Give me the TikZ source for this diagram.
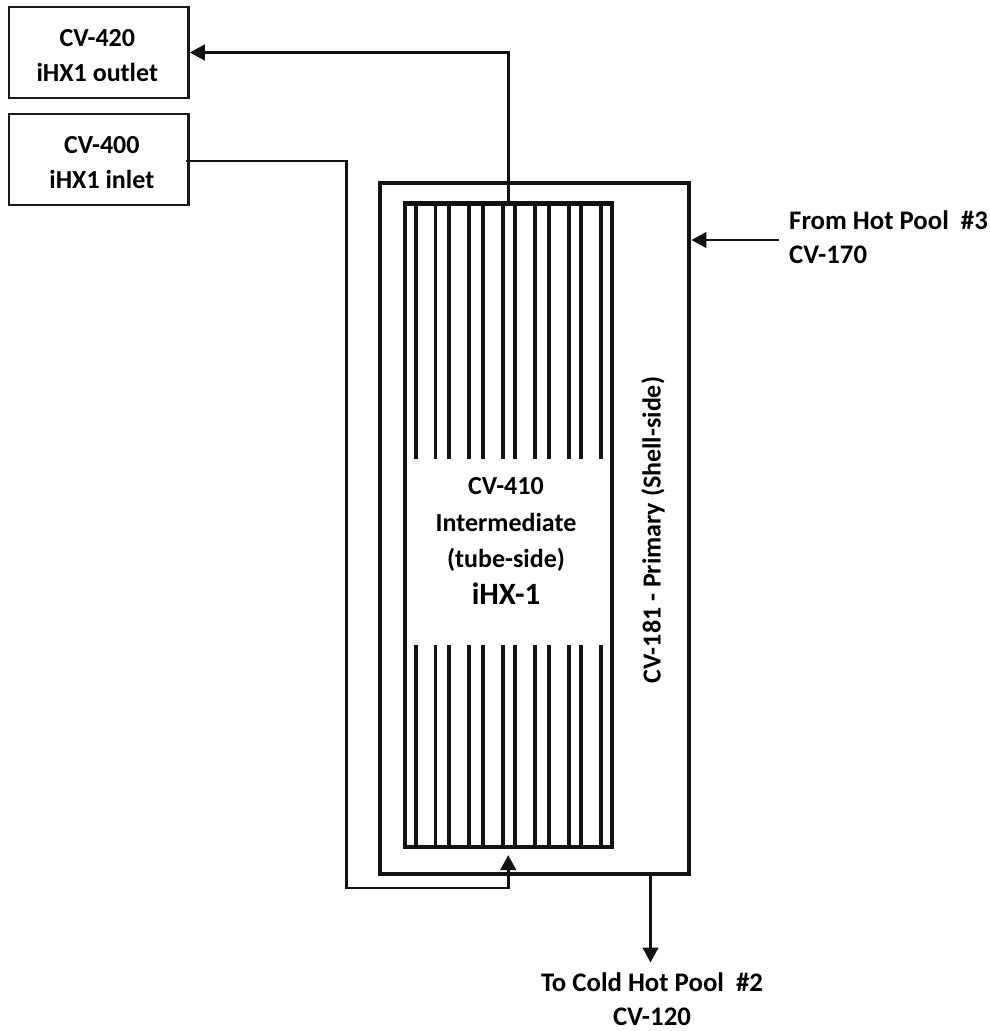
\documentclass[tikz,border=0pt]{standalone}
\usepackage{fontspec}
\setmainfont{Carlito}
\usetikzlibrary{arrows.meta}
\tikzset{
  x=1pt,y=-1pt,
  cvbox/.style={draw=black!90,line width=2.4pt,inner sep=0pt,minimum width=179.5pt,minimum height=91pt,align=center,font=\fontsize{26}{35}\selectfont\bfseries},
  shell/.style={draw=black!93,line width=4.2pt,inner sep=0pt},
  bundle/.style={draw=black!93,line width=4.2pt,inner sep=0pt},
  tube/.style={draw=black!93,line width=3.8pt},
  flow/.style={draw=black!93,line width=2.8pt,line join=miter,-{Triangle[length=15pt,width=15.5pt]}},
  caption/.style={align=center,inner sep=0pt,font=\fontsize{26}{35}\selectfont\bfseries},
  captionwide/.style={align=center,inner sep=0pt,font=\fontsize{26.8}{34}\selectfont\bfseries},
}
\begin{document}
\begin{tikzpicture}
\useasboundingbox (0,0) rectangle (990,1031);
\node[cvbox] (outlet) at (98.8,52.5) {\rule{0pt}{24pt}\hspace*{-3pt}CV-420\\\hspace*{-3pt}iHX1 outlet};
\node[cvbox] (inlet) at (98.8,159.5) {\rule{0pt}{24pt}\hspace*{6pt}CV-400\\\hspace*{6pt}iHX1 inlet};
\node[shell,minimum width=309pt,minimum height=691pt] (outer) at (534.8,528.6) {};
\node[bundle,minimum width=207pt,minimum height=643.5pt] (inner) at (508.2,525.2) {};
\foreach \tx in {415.7,435.5,449.3,469.3,483,503,515.3,535.3,549,569.3,581.3,601.3}{
  \draw[tube] (\tx,203) -- (\tx,459);
  \draw[tube] (\tx,645) -- (\tx,847);
}
\node[caption,font=\fontsize{26}{36.5}\selectfont\bfseries] (mid) at (506,541) {CV-410\\Intermediate\\(tube-side)\\{\fontsize{31}{36.5}\selectfont iHX-1}};
\node[caption,rotate=90] (shelltext) at (653,530) {CV-181 - Primary (Shell-side)};
\node[captionwide,align=left,anchor=west] (hot) at (789,237) {From Hot Pool~ \#3\\CV-170};
\node[captionwide] (cold) at (652,999) {To Cold Hot Pool~ \#2\\CV-120};
\coordinate (turnA) at (inner.north |- outlet.east);
\draw[flow] (inner.north) -- (turnA) -- (outlet.east);
\coordinate (inletout) at (186,161);
\coordinate (turnB) at (346.5,161);
\coordinate (turnC) at (346.5,888);
\coordinate (turnD) at (inner.south |- turnC);
\draw[flow] (inletout) -- (turnB) -- (turnC) -- (turnD) -- ([yshift=-6pt]inner.south);
\coordinate (hotin) at (779,240);
\draw[flow] (hotin) -- (hotin -| outer.east);
\coordinate (coldout) at (650.5,962.5);
\draw[flow] (coldout |- outer.south) -- (coldout);
\end{tikzpicture}
\end{document}
